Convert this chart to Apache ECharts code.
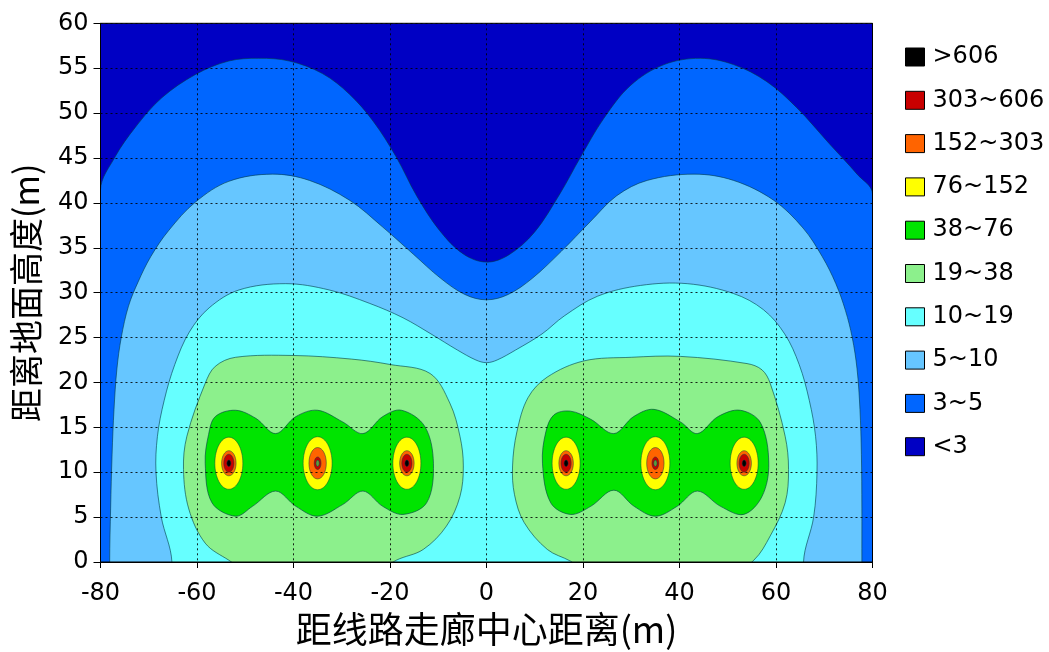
<!DOCTYPE html>
<html><head><meta charset="utf-8">
<script src="https://cdn.jsdelivr.net/npm/echarts@6/dist/echarts.min.js"></script>
<style>html,body{margin:0;padding:0;background:#fff}#c{width:1049px;height:652px}</style>
</head><body><div id="c"></div>
<script>
// ---- legend levels (field strength classes) ----
const levelNames  = ['>606','303~606','152~303','76~152','38~76','19~38','10~19','5~10','3~5','<3'];
const levelColors = ['#000000','#C80000','#FF6400','#FFFF00','#00E400','#8CF08C','#66FFFF','#66C6FF','#0066FF','#0000C4'];

// ---- axis ranges ----
const xRange = [-80, 80], xStep = 20;
const yRange = [0, 60],  yStep = 5;

// ---- contour boundaries, [x(m), y(m)] ----
// <3 / 3~5 contour (left to right)
const contour3 = [[-80,41.4],[-77,45.1],[-72.8,48.4],[-67.3,51.7],[-60.3,54.3],[-53.4,55.8],[-47.2,56.1],[-40.9,55.8],[-34,54.4],[-28.4,52.1],[-23.5,49.1],[-18.7,45.1],[-14.5,40.8],[-9.7,36.9],[-4.8,34.3],[0,33.4],[4.6,34.2],[9.9,36.7],[15.2,41],[19.5,45.1],[24.3,49.4],[29.9,53.1],[36.8,55.4],[44.3,56.1],[51.2,55.4],[58.1,53.5],[64.3,50.6],[71.2,46.5],[76.8,43.2],[80,41]];
// 3~5 / 5~10 contour
const contour5 = [[-78.1,0],[-77.9,6],[-77.6,12],[-77.2,17],[-76.6,21.5],[-75.7,25],[-74.2,28.5],[-72.2,31.2],[-69.6,34],[-65.9,36.9],[-60.3,40.1],[-53.4,42.4],[-44.4,43.2],[-36.7,42.5],[-28.4,40.3],[-21.5,37.3],[-15.2,34.3],[-9.5,31.6],[-4.5,29.8],[0,29.2],[4.5,29.8],[9.5,31.6],[15.5,34.6],[21.5,37.9],[27,40.8],[33.3,42.5],[43,43.2],[51.2,42.5],[59.5,40.3],[65.6,37.2],[69.6,34],[72.4,31],[74.4,28],[75.8,25],[76.8,21.5],[77.4,17],[77.7,12],[77.8,6],[77.8,0]];
// 5~10 / 10~19 contour
const contour10 = [[-65.2,0],[-67.4,5],[-68.5,10],[-68.2,14],[-66.8,18],[-64.6,22],[-61.6,25.6],[-57.5,28.3],[-51.3,30.3],[-41.6,31],[-32.6,30.3],[-24.2,28.8],[-17.3,27.2],[-11.5,25.4],[-6,23.6],[-2.2,22.5],[0,22.2],[2.2,22.5],[6,23.6],[11.5,25.4],[16.1,27.4],[23,29.6],[31.9,30.8],[41.6,31],[51.2,29.9],[57.4,28.1],[61.8,25.4],[64.8,22],[66.9,18],[68.2,14],[68.5,10],[67.8,5],[65.7,0]];
// 10~19 / 19~38 contours (two closed lobes, lower part runs below the ground line)
const contour19L = [[-62.8,10.3],[-62.1,14],[-58.3,19.9],[-56.2,21.8],[-52,22.8],[-40,23],[-28,22.6],[-20,22],[-11.7,21],[-7.6,17.7],[-5.5,14],[-4.8,10.7],[-5.5,7.3],[-8.3,4],[-13.1,1.4],[-18.7,0.2],[-24,-1.5],[-48,-1.5],[-53.4,0.2],[-58.3,2.1],[-61.7,5.9]];
const contour19R = [[5.4,10.7],[6.3,14.5],[8.6,18.3],[12.6,20.6],[20.2,22.4],[30,22.8],[40.2,22.9],[54,22.1],[57.1,21.4],[58.8,19.9],[61.9,14],[62.6,10.3],[61.9,6.6],[58.8,2.9],[55.4,0.2],[50,-1.5],[22,-1.5],[17.4,0.1],[12.6,1.4],[7.8,4.4],[5.8,7.5]];
// 19~38 / 38~76 contours
const contour38L = [[-58.3,11],[-57.6,14.2],[-56.2,16.2],[-52,16.9],[-47.8,16],[-43.7,14.3],[-39.5,16.2],[-35,16.9],[-29.8,15.6],[-25.6,14.3],[-21.5,16.2],[-17.6,16.9],[-12.8,15.1],[-11,11],[-12.4,6.6],[-17.3,5.3],[-21.5,6.2],[-25.6,7.9],[-29.8,6.4],[-35,5.1],[-39.5,6.2],[-43.7,7.9],[-48.5,6.2],[-52,5.1],[-56.9,6.6]];
const contour38R = [[11.6,11],[12.3,14.5],[14,16.4],[17.4,16.8],[21.6,15.9],[26.4,14.3],[30.5,16.2],[34.7,17],[40.2,15.6],[43.7,14.3],[48,16.2],[52.6,16.9],[56.8,15.5],[58.5,11],[57.1,7.3],[53.3,5.3],[48.5,6.2],[43.7,7.9],[39.5,6.2],[35,5.1],[30.6,6.2],[26.4,8],[21.6,6.2],[17.4,5.3],[13.3,6.6]];

// ---- conductors and the extents of the rings around them (m) ----
const conductorX = [-53.4, -35, -16.5, 16.5, 35, 53.4];
const conductorY = [11, 11, 11, 11, 11, 11];
const ring76  = [[2.9,2.9],[3.0,2.95],[2.9,2.9],[2.9,2.9],[3.0,2.95],[2.9,2.9]];
const ring152 = [[1.5,1.4],[1.8,1.75],[1.5,1.4],[1.5,1.4],[1.8,1.75],[1.5,1.4]];
const ring303 = [[1.05,1.0],[0.7,0.7],[1.05,1.0],[1.05,1.0],[0.7,0.7],[1.05,1.0]];
const ring606 = [[0.4,0.35],null,[0.4,0.35],[0.4,0.35],null,[0.4,0.35]];
const coreMid = [null,[0.35,0.35],null,null,[0.35,0.35],null];

// ---- build shapes per level ----
function ellipses(r) {
  const out = [];
  r.forEach((v, i) => { if (v) out.push({kind:'ellipse', c:[conductorX[i], conductorY[i]], r:v}); });
  return out;
}
const below = yRange[0] - 20;
const shapesByLevel = {
  '<3':      [{kind:'poly', pts:[[xRange[0],yRange[0]],[xRange[1],yRange[0]],[xRange[1],yRange[1]],[xRange[0],yRange[1]]], smooth:0}],
  '3~5':     [{kind:'poly', pts:contour3.concat([[xRange[1],below],[xRange[0],below]]), smooth:0.35}],
  '5~10':    [{kind:'poly', pts:contour5.concat([[78,below],[-78,below]]), smooth:0.35}],
  '10~19':   [{kind:'poly', pts:contour10.concat([[65.7,below],[-65.2,below]]), smooth:0.35}],
  '19~38':   [{kind:'poly', pts:contour19L, smooth:0.35},{kind:'poly', pts:contour19R, smooth:0.35}],
  '38~76':   [{kind:'poly', pts:contour38L, smooth:0.35},{kind:'poly', pts:contour38R, smooth:0.35}],
  '76~152':  ellipses(ring76),
  '152~303': ellipses(ring152),
  '303~606': ellipses(ring303),
  '>606':    ellipses(ring606)
};
const strokeCol = 'rgba(0,60,70,0.6)';

function makeSeries(name, color, shapes) {
  return {
    type:'custom', name:name, coordinateSystem:'cartesian2d', clip:true,
    itemStyle:{color:color},
    data: shapes.map((s, i) => [i]),
    silent:true,
    renderItem: function (params, api) {
      const s = shapes[params.dataIndex];
      if (s.kind === 'ellipse') {
        const c = api.coord(s.c);
        const sz = api.size(s.r);
        return {type:'ellipse', shape:{cx:c[0], cy:c[1], rx:sz[0], ry:sz[1]},
                style:{fill:color, stroke:strokeCol, lineWidth:0.8}};
      }
      const pts = s.pts.map(p => api.coord(p));
      return {type:'polygon', shape:{points:pts, smooth:s.smooth},
              style:{fill:color, stroke:strokeCol, lineWidth:1}};
    }
  };
}

const drawOrder = ['<3','3~5','5~10','10~19','19~38','38~76','76~152','152~303','303~606','>606'];
const series = drawOrder.map(n => makeSeries(n, levelColors[levelNames.indexOf(n)], shapesByLevel[n]));
series.push(makeSeries('core', '#5E9E3C', ellipses(coreMid)));

const chart = echarts.init(document.getElementById('c'), null, {renderer:'canvas'});
const numFont = 'DejaVu Sans';
const cjkFont = 'Noto Sans CJK SC';
chart.setOption({
  animation:false,
  backgroundColor:'#fff',
  grid:{left:100.5, right:176.5, top:23.3, bottom:86.3, show:true, z:20, borderColor:'#000', borderWidth:1, backgroundColor:'transparent'},
  legend:{
    orient:'vertical', left:900, top:40, itemWidth:19, itemHeight:18, itemGap:19.3,
    icon:'rect', selectedMode:false,
    itemStyle:{borderColor:'#000', borderWidth:1},
    textStyle:{fontFamily:numFont, fontSize:24, color:'#000', padding:[0,0,0,3]},
    data: levelNames
  },
  xAxis:{
    type:'value', min:xRange[0], max:xRange[1], interval:xStep, z:21,
    name:'距线路走廊中心距离(m)', nameLocation:'middle', nameGap:49,
    nameTextStyle:{fontFamily:cjkFont, fontSize:36, color:'#000'},
    axisLine:{show:true, onZero:false, lineStyle:{color:'#000', width:1}},
    axisTick:{show:true, length:6, lineStyle:{color:'#000'}},
    axisLabel:{fontFamily:numFont, fontSize:24, color:'#000', margin:20},
    splitLine:{show:true, lineStyle:{type:[2,3], color:'#000', width:1, opacity:0.85}}
  },
  yAxis:{
    type:'value', min:yRange[0], max:yRange[1], interval:yStep, z:21,
    name:'距离地面高度(m)', nameLocation:'middle', nameGap:57, nameRotate:90,
    nameTextStyle:{fontFamily:cjkFont, fontSize:34, color:'#000'},
    axisLine:{show:true, onZero:false, lineStyle:{color:'#000', width:1}},
    axisTick:{show:true, length:7, lineStyle:{color:'#000'}},
    axisLabel:{fontFamily:numFont, fontSize:24, color:'#000', margin:12},
    splitLine:{show:true, lineStyle:{type:[2,3], color:'#000', width:1, opacity:0.85}}
  },
  series: series
});
</script>
</body></html>
